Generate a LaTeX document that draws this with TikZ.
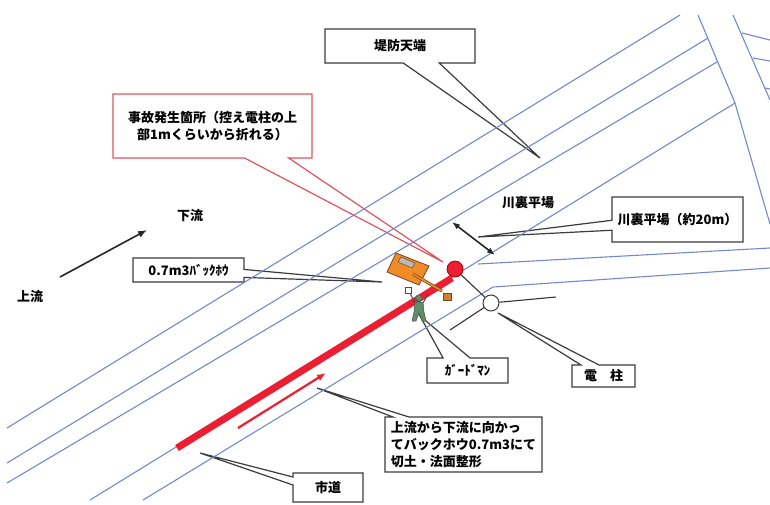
\documentclass[tikz,border=0pt]{standalone}
\usepackage{fontspec}
\setmainfont{Noto Sans CJK JP}
\usetikzlibrary{arrows.meta,shapes.callouts}

\definecolor{planblue}{RGB}{118,136,204}
\definecolor{workred}{RGB}{236,30,50}
\definecolor{notered}{RGB}{224,84,94}
\definecolor{boxgray}{RGB}{60,60,60}
\definecolor{digger}{RGB}{240,140,40}
\definecolor{diggerdark}{RGB}{120,70,35}
\definecolor{guardgreen}{RGB}{96,140,104}

\begin{document}
\begin{tikzpicture}[x=1pt,y=-1pt,
    plan/.style={planblue,line width=1.1pt},
    note/.style={rectangle callout,draw=boxgray,fill=white,line width=1.2pt,
      inner sep=0pt,font=\bfseries\fontsize{13}{17}\selectfont},
    word/.style={font=\bfseries\fontsize{13}{17}\selectfont},
    wire/.style={black!80,line width=1.1pt}]
  \useasboundingbox (0,0) rectangle (770,504);

  % points the callouts aim at
  \coordinate (crestpt) at (540,158);
  \coordinate (breakpt) at (443,262);
  \coordinate (hoept) at (382,282);
  \coordinate (bermpt) at (478,237);
  \coordinate (guardpt) at (420,316);
  \coordinate (polept) at (498,313);
  \coordinate (workpt) at (317,388);
  \coordinate (roadpt) at (200,453);

  % callouts
  \node[note,minimum width=150pt,minimum height=34pt,
    callout absolute pointer={(crestpt)},callout pointer width=36pt]
    (crest) at (400,46) {堤防天端};
  \node[note,draw=notered,align=center,minimum width=199pt,minimum height=64pt,
    callout absolute pointer={(breakpt)},callout pointer width=44pt]
    (accident) at (212.5,126) {事故発生箇所（控え電柱の上\\部1mくらいから折れる）};
  \node[note,minimum width=111pt,minimum height=24pt,
    callout absolute pointer={(hoept)},callout pointer width=8pt]
    (hoenote) at (188.5,270) {0.7m3ﾊﾞｯｸﾎｳ};
  \node[note,minimum width=131pt,minimum height=45pt,
    callout absolute pointer={(bermpt)},callout pointer width=10pt]
    (bermnote) at (677.5,219.5) {川裏平場（約20m）};
  \node[note,minimum width=81pt,minimum height=25pt,
    callout absolute pointer={(guardpt)},callout pointer width=27pt]
    (guardnote) at (467.5,370.5) {ｶﾞｰﾄﾞﾏﾝ};
  \node[note,minimum width=63pt,minimum height=22pt,
    callout absolute pointer={(polept)},callout pointer width=18pt]
    (polenote) at (603.5,376) {電　柱};
  \node[note,align=left,minimum width=157pt,minimum height=55pt,
    callout absolute pointer={(workpt)},callout pointer width=16pt]
    (worknote) at (463.5,444.5) {上流から下流に向かっ\\てバックホウ0.7m3にて\\切土・法面整形};
  \node[note,minimum width=70pt,minimum height=29pt,
    callout absolute pointer={(roadpt)},callout pointer width=8pt]
    (roadnote) at (328,487.5) {市道};

  % levee, berm and road edges
  \draw[plan] (7,428) -- (680,15);
  \draw[plan] (7,463) -- (708,38);
  \draw[plan] (7,483) -- (717,62);
  \draw[plan] (90,500) -- (735,103);
  \draw[plan] (143,500) -- (493,287) -- (770,268);
  \draw[plan] (478,264) -- (770,248);
  \draw[plan] (698,15) -- (735,103) -- (763,200) -- (770,224);
  \draw[plan] (733,15) -- (770,100);
  \draw[plan] (742,33) -- (770,40);
  \draw[plan] (753,58) -- (770,61);
  \draw[plan] (765,88) -- (770,89);

  % worked stretch and direction of work
  \draw[workred,line width=7pt] (177,448) -- (452,278);
  \draw[workred,line width=2.2pt,-{Latex[length=9pt,width=7pt]}] (238,428) -- (326,373);

  % flow direction
  \node[word] (upstream) at (30,297) {上流};
  \node[word] (downstream) at (190,216) {下流};
  \coordinate (flowtail) at (60,277);
  \coordinate (flowhead) at (147,230);
  \draw[black!85,line width=1.6pt,-{Latex[length=9pt,width=7pt]}] (flowtail) -- (flowhead);

  % berm width
  \node[word] (berm) at (528,203) {川裏平場};
  \coordinate (bermtop) at (452,222);
  \coordinate (bermfoot) at (495,255);
  \draw[black!85,line width=1.6pt,{Latex[length=8pt,width=6pt]}-{Latex[length=8pt,width=6pt]}] (bermtop) -- (bermfoot);

  % poles and wires
  \node[circle,draw=boxgray,fill=white,line width=1pt,minimum size=16pt,inner sep=0pt] (pole) at (491,303) {};
  \node[circle,draw=red!65!black,fill=workred,line width=0.8pt,minimum size=16pt,inner sep=0pt] (stay) at (455,269) {};
  \coordinate (wireeast) at (556,297);
  \coordinate (wiresw) at (450,330);
  \draw[wire] (stay) -- (pole);
  \draw[wire] (pole) -- (wireeast);
  \draw[wire] (pole) -- (wiresw);

  % backhoe
  \filldraw[fill=digger,draw=diggerdark,line width=0.8pt] (387,272) -- (396,253) -- (429,266) -- (419,285) -- cycle;
  \filldraw[fill=gray!55,draw=diggerdark,line width=0.5pt] (398,262) -- (401,257) -- (415,263) -- (412,268) -- cycle;
  \draw[diggerdark,line width=3pt] (413,274) -- (442,291);
  \draw[digger,line width=1.6pt] (413,274) -- (442,291);
  \filldraw[fill=brown!70!orange,draw=diggerdark,line width=0.6pt] (443,293) rectangle (451,300);

  % guard with flag
  \draw[black!70,line width=1pt] (415,303) -- (410,293);
  \draw[black!70,line width=1pt] (423,303) -- (428,294);
  \filldraw[fill=white,draw=black!70,line width=0.6pt] (405,287) rectangle (411,293);
  \filldraw[fill=guardgreen,draw=black!70,line width=0.5pt] (415,302) -- (423,302) -- (424,312) -- (426,321) -- (422,321) -- (419,313) -- (416,321) -- (412,321) -- (414,312) -- cycle;
  \filldraw[fill=guardgreen,draw=black!70,line width=0.5pt] (419,298) circle (3.2pt);
\end{tikzpicture}
\end{document}
